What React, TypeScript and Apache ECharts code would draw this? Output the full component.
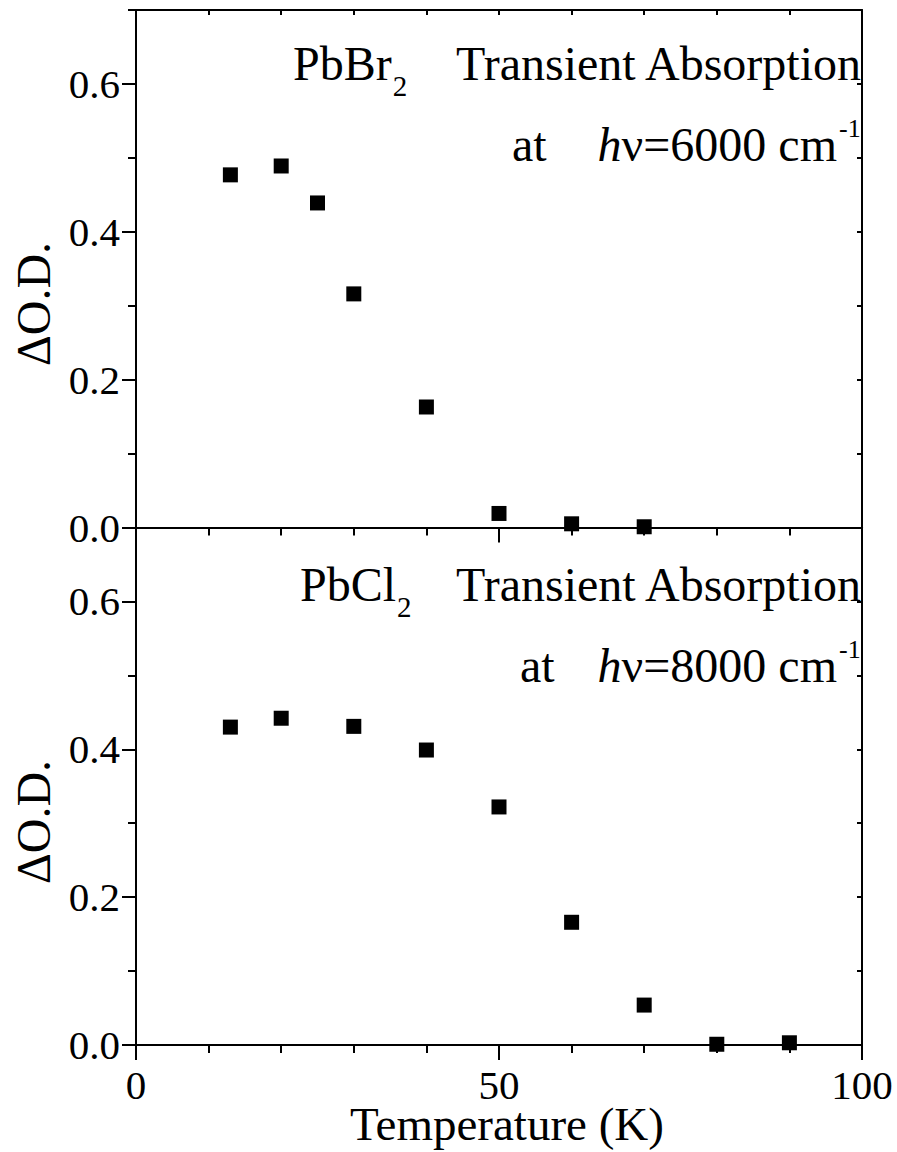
import React, { useEffect, useRef } from "react";
import * as echarts from "echarts";

// ---- data ----
const temperatureBr = [13, 20, 25, 30, 40, 50, 60, 70];
const odBr = [0.477, 0.489, 0.439, 0.316, 0.163, 0.019, 0.005, 0.001];
const temperatureCl = [13, 20, 30, 40, 50, 60, 70, 80, 90];
const odCl = [0.43, 0.442, 0.431, 0.399, 0.322, 0.166, 0.054, 0.001, 0.003];

const xMajorTicks = [0, 50, 100];
const xMinorTicks = [10, 20, 30, 40, 60, 70, 80, 90];
const yMajorTicks = [0, 0.2, 0.4, 0.6];
const yMinorTicks = [0.1, 0.3, 0.5, 0.7];

const xAxisTitle = "Temperature (K)";
const yAxisTitle = "ΔO.D.";
const panelCompounds = ["PbBr", "PbCl"];
const panelEnergies = ["6000", "8000"];

const FONT = "'Liberation Serif', 'Times New Roman', Times, serif";
const BLACK = "#000";

const GRID_LEFT = 136;
const GRID_W = 726;
const GRID_TOP = 10;
const GRID_H = 517.5;

function xAxesFor(gridIndex: number, withLabels: boolean, withTop: boolean) {
  const base = {
    gridIndex,
    type: "value",
    min: 0,
    max: 100,
    splitLine: { show: false },
  };
  const axes: any[] = [
    {
      ...base,
      position: "bottom",
      axisLine: { show: true, onZero: false, lineStyle: { color: BLACK, width: 2 } },
      axisTick: { show: true, inside: false, length: 15, customValues: xMajorTicks, lineStyle: { color: BLACK, width: 2 } },
      axisLabel: withLabels
        ? { show: true, customValues: xMajorTicks, margin: 24, lineHeight: 32, color: BLACK, fontFamily: FONT, fontSize: 41 }
        : { show: false },
    },
    {
      ...base,
      position: "bottom",
      axisLine: { show: false, onZero: false },
      axisTick: { show: true, inside: false, length: 8, customValues: xMinorTicks, lineStyle: { color: BLACK, width: 2 } },
      axisLabel: { show: false },
    },
  ];
  if (withTop) {
    axes.push({
      ...base,
      position: "top",
      interval: 10,
      axisLine: { show: true, onZero: false, lineStyle: { color: BLACK, width: 2 } },
      axisTick: { show: true, inside: true, length: 5, lineStyle: { color: BLACK, width: 2 } },
      axisLabel: { show: false },
    });
  }
  return axes;
}

function yAxesFor(gridIndex: number) {
  const base = {
    gridIndex,
    type: "value",
    min: 0,
    max: 0.7,
    splitLine: { show: false },
  };
  return [
    {
      ...base,
      position: "left",
      axisLine: { show: true, onZero: false, lineStyle: { color: BLACK, width: 2 } },
      axisTick: { show: true, inside: false, length: 14, customValues: yMajorTicks, lineStyle: { color: BLACK, width: 2 } },
      axisLabel: {
        show: true,
        customValues: yMajorTicks,
        margin: 16,
        color: BLACK,
        fontFamily: FONT,
        fontSize: 41,
        formatter: (v: number) => v.toFixed(1),
      },
    },
    {
      ...base,
      position: "left",
      axisLine: { show: false, onZero: false },
      axisTick: { show: true, inside: false, length: 8, customValues: yMinorTicks, lineStyle: { color: BLACK, width: 2 } },
      axisLabel: { show: false },
    },
    {
      ...base,
      position: "right",
      interval: 0.1,
      axisLine: { show: true, onZero: false, lineStyle: { color: BLACK, width: 2 } },
      axisTick: { show: true, inside: true, length: 5, lineStyle: { color: BLACK, width: 2 } },
      axisLabel: { show: false },
    },
  ];
}

function panelTexts(i: number, dy: number, compoundX: number, atX: number): any[] {
  const big = 48;
  const small = 29;
  const compoundWidth = big * (panelCompounds[i] === "PbBr" ? 2.056 : 2.001);
  return [
    {
      type: "text",
      x: compoundX,
      y: 63 + dy,
      style: { text: panelCompounds[i], font: `${big}px ${FONT}`, fill: BLACK, align: "left", verticalAlign: "middle" },
    },
    {
      type: "text",
      x: compoundX + compoundWidth + 1,
      y: 86 + dy,
      style: { text: "2", font: `${small}px ${FONT}`, fill: BLACK, align: "left", verticalAlign: "middle" },
    },
    {
      type: "text",
      x: 861,
      y: 63 + dy,
      style: { text: "Transient Absorption", font: `${big}px ${FONT}`, fill: BLACK, align: "right", verticalAlign: "middle" },
    },
    {
      type: "text",
      x: atX,
      y: 144 + dy,
      style: { text: "at", font: `${big}px ${FONT}`, fill: BLACK, align: "left", verticalAlign: "middle" },
    },
    {
      type: "text",
      x: 837,
      y: 144 + dy,
      style: {
        text: `{i|h}ν=${panelEnergies[i]} cm`,
        font: `${big}px ${FONT}`,
        fill: BLACK,
        align: "right",
        verticalAlign: "middle",
        rich: { i: { fontStyle: "italic", fontFamily: FONT, fontSize: big, fill: BLACK } },
      },
    },
    {
      type: "text",
      x: 839,
      y: 128 + dy,
      style: { text: "-1", font: `26px ${FONT}`, fill: BLACK, align: "left", verticalAlign: "middle" },
    },
  ];
}

export default function App() {
  const ref = useRef<HTMLDivElement>(null);
  useEffect(() => {
    if (!ref.current) return;
    const chart = echarts.init(ref.current, undefined, { renderer: "svg" });
    const scatterBase = {
      type: "scatter",
      symbol: "rect",
      symbolSize: 15,
      clip: false,
      itemStyle: { color: BLACK, opacity: 1 },
      z: 5,
    };
    const option: any = {
      animation: false,
      backgroundColor: "#fff",
      grid: [
        { left: GRID_LEFT, top: GRID_TOP, width: GRID_W, height: GRID_H },
        { left: GRID_LEFT, top: GRID_TOP + GRID_H, width: GRID_W, height: GRID_H },
      ],
      xAxis: [...xAxesFor(0, false, true), ...xAxesFor(1, true, false)],
      yAxis: [...yAxesFor(0), ...yAxesFor(1)],
      series: [
        {
          ...scatterBase,
          xAxisIndex: 0,
          yAxisIndex: 0,
          data: temperatureBr.map((t, k) => [t, odBr[k]]),
        },
        {
          ...scatterBase,
          xAxisIndex: 3,
          yAxisIndex: 3,
          data: temperatureCl.map((t, k) => [t, odCl[k]]),
        },
      ],
      graphic: [
        ...panelTexts(0, 0, 293, 512),
        ...panelTexts(1, 521, 300, 520),
        {
          type: "text",
          x: 33,
          y: 304,
          rotation: Math.PI / 2,
          style: { text: yAxisTitle, font: `48px ${FONT}`, fill: BLACK, align: "center", verticalAlign: "middle" },
        },
        {
          type: "text",
          x: 33,
          y: 822,
          rotation: Math.PI / 2,
          style: { text: yAxisTitle, font: `48px ${FONT}`, fill: BLACK, align: "center", verticalAlign: "middle" },
        },
        {
          type: "text",
          x: 507,
          y: 1124,
          style: {
            text: xAxisTitle,
            font: `47px ${FONT}`,
            lineHeight: 36,
            fill: BLACK,
            align: "center",
            verticalAlign: "middle",
          },
        },
      ],
    };
    chart.setOption(option);
    return () => chart.dispose();
  }, []);
  return (
    <div
      ref={ref}
      style={{ position: "fixed", left: 0, top: 0, width: 897, height: 1152, background: "#fff" }}
    />
  );
}
